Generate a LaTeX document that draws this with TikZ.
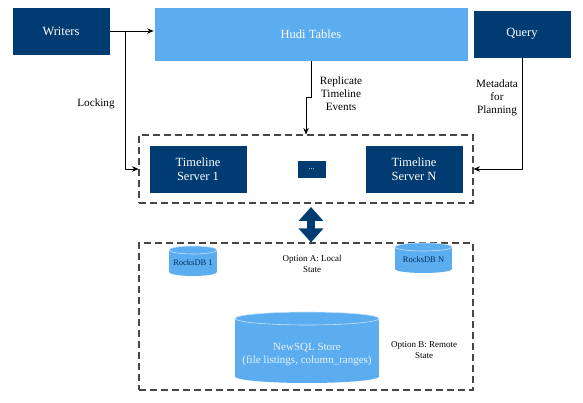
\documentclass[tikz,border=0pt]{standalone}
\usepackage{fontspec}
\setmainfont{Liberation Serif}
\usetikzlibrary{arrows.meta}
\definecolor{dkblue}{RGB}{0,60,114}
\definecolor{ltblue}{RGB}{92,173,240}
\definecolor{dashgray}{RGB}{70,70,70}
\tikzset{
  darkbox/.style={fill=dkblue, draw=white, line width=0.8pt, text=white, inner sep=0pt, align=center, font=\fontsize{12.5}{14}\selectfont},
  lightbox/.style={fill=ltblue, draw=white, line width=0.8pt, text=white, inner sep=0pt, align=center, font=\fontsize{12.5}{14}\selectfont},
  dashbox/.style={draw=dashgray, line width=1.1pt, dash pattern=on 7pt off 4pt, inner sep=0pt},
  conn/.style={draw=black, line width=0.8pt, -{Stealth[length=6.5pt,width=5.5pt]}},
  lbl/.style={align=center, font=\fontsize{11.2}{13}\selectfont, inner sep=0pt},
  smalllbl/.style={align=center, font=\fontsize{9}{11}\selectfont, inner sep=0pt},
  cyltext/.style={align=center, inner sep=0pt}
}
\newcommand{\mycyl}[5]{%
  % #1 xl, #2 xr, #3 ytop, #4 ybot, #5 ry
  \fill[ltblue] (#1,#3+#5) rectangle (#2,#4-#5);
  \fill[ltblue] ({(#1+#2)/2},#4-#5) ellipse [x radius={(#2-#1)/2}, y radius=#5];
  \fill[ltblue] ({(#1+#2)/2},#3+#5) ellipse [x radius={(#2-#1)/2}, y radius=#5];
  \draw[white!65!ltblue, line width=0.6pt] ({(#1+#2)/2},#3+#5) ellipse [x radius={(#2-#1)/2}, y radius=#5];
}
\begin{document}
\begin{tikzpicture}[x=1pt,y=-1pt]
\useasboundingbox (0,0) rectangle (583,403);

% top row
\node[darkbox, minimum width=98pt, minimum height=48pt] (writers) at (61,31) {Writers};
\node[lightbox, minimum width=314pt, minimum height=54pt] (hudi) at (311,34) {Hudi Tables};
\node[darkbox, minimum width=98pt, minimum height=48pt] (query) at (522,34) {Query};

% timeline servers
\node[dashbox, minimum width=334pt, minimum height=68pt] (box1) at (306,169) {};
\node[darkbox, minimum width=98pt, minimum height=48pt] (ts1) at (198,169) {Timeline\\Server 1};
\node[darkbox, minimum width=29pt, minimum height=18pt, font=\fontsize{8}{9}\selectfont] (dots) at (311.5,169) {...};
\node[darkbox, minimum width=98pt, minimum height=48pt] (tsn) at (414,169) {Timeline\\Server N};

% storage box
\node[dashbox, minimum width=334pt, minimum height=147pt] (box2) at (306,316.5) {};

% connectors
\coordinate (br) at (125,31);
\draw[line width=0.8pt] (writers.east |- br) -- (br);
\draw[conn] (br) -- (br -| hudi.west);
\draw[conn] (br) |- (box1.west);
\node[lbl] (locking) at (96,104) {Locking};

\coordinate (rj) at (306,97);
\draw[conn] (hudi.south) -- (hudi.south |- rj) -- (rj) -- (rj |- box1.north);
\node[lbl] (repl) at (341,94) {Replicate\\Timeline\\Events};

\draw[conn] (query.south) |- (box1.east);
\node[lbl] (meta) at (497,98) {Metadata\\for\\Planning};

% double arrow
\coordinate (da1) at (311,207);
\draw[draw=dkblue, line width=8pt, {Triangle[width=24pt,length=14pt]}-{Triangle[width=24pt,length=14pt]}] (da1) -- (da1 |- box2.north);

% cylinders
\mycyl{169}{217}{246}{276}{4}
\node[cyltext, text=dkblue!80!black, font=\fontsize{8.5}{10}\selectfont] (rdb1) at (193,262.5) {RocksDB 1};
\mycyl{395}{452}{243}{273}{4}
\node[cyltext, text=dkblue!80!black, font=\fontsize{8.5}{10}\selectfont] (rdbn) at (423.5,259.5) {RocksDB N};
\mycyl{235}{379}{312}{383}{6.5}
\node[cyltext, text=white!85!ltblue, font=\fontsize{11}{13}\selectfont] (newsql) at (307,355) {NewSQL Store\\(file listings, column\_ranges)};

\node[smalllbl] (optA) at (312,264) {Option A: Local\\State};
\node[smalllbl] (optB) at (424,350) {Option B: Remote\\State};
\end{tikzpicture}
\end{document}
